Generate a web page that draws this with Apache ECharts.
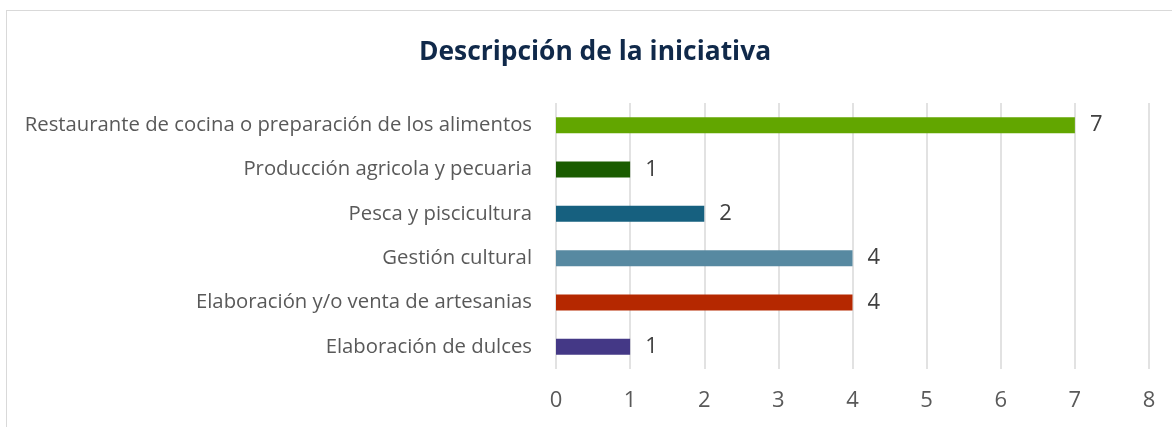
<!DOCTYPE html>
<html>
<head>
<meta charset="utf-8">
<script src="https://cdn.jsdelivr.net/npm/echarts@6/dist/echarts.min.js"></script>
<style>
  html, body { margin: 0; padding: 0; background: #fff; }
  .frame {
    position: absolute; left: 6px; top: 10px;
    width: 1200px; height: 450px;
    border: 1.5px solid #d9d9d9; box-sizing: border-box;
  }
  #chart { position: absolute; left: 0; top: 0; width: 1172px; height: 427px; }
</style>
</head>
<body>
<div class="frame"></div>
<div id="chart"></div>
<script>
// datos (de abajo hacia arriba, como los dibuja el eje de categorías)
var categories = [
  "Elaboración de dulces",
  "Elaboración y/o venta de artesanias",
  "Gestión cultural",
  "Pesca y piscicultura",
  "Producción agricola y pecuaria",
  "Restaurante de cocina o preparación de los alimentos"
];
var values = [1, 4, 4, 2, 1, 7];
var barColors = ["#443886", "#b52800", "#5789a1", "#16607f", "#1a5c00", "#62a600"];
var xTicks = [0, 1, 2, 3, 4, 5, 6, 7, 8];

var myChart = echarts.init(document.getElementById("chart"));
myChart.setOption({
  animation: false,
  textStyle: { fontFamily: "Open Sans" },
  title: {
    text: "Descripción de la iniciativa",
    left: 590,
    top: 34,
    textAlign: "center",
    textStyle: { fontFamily: "Open Sans", fontSize: 26.4, fontWeight: "bold", color: "#10294a" }
  },
  grid: { left: 556, right: 23, top: 103, bottom: 58 },
  xAxis: {
    type: "value",
    min: xTicks[0],
    max: xTicks[xTicks.length - 1],
    interval: 1,
    axisLine: { show: false },
    axisTick: { show: false },
    splitLine: { lineStyle: { color: "#d9d9d9", width: 1.5 } },
    axisLabel: { fontSize: 22, color: "#595959", margin: 21 }
  },
  yAxis: {
    type: "category",
    data: categories,
    axisLine: { show: false },
    axisTick: { show: false },
    axisLabel: { fontSize: 20.3, color: "#595959", margin: 24 }
  },
  series: [{
    type: "bar",
    barWidth: 16,
    data: values.map(function (v, i) {
      return { value: v, itemStyle: { color: barColors[i] } };
    }),
    label: { show: true, position: "right", distance: 15, fontSize: 22, color: "#404040" }
  }]
});
</script>
</body>
</html>
